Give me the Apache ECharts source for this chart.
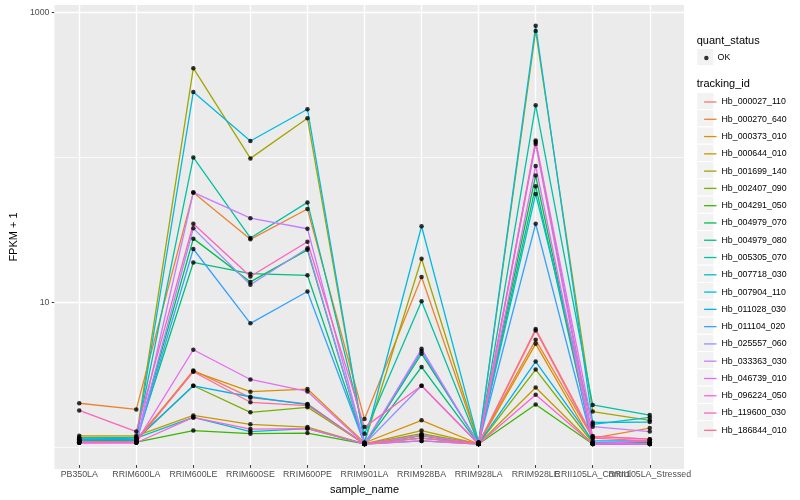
<!DOCTYPE html>
<html>
<head>
<meta charset="utf-8">
<script src="https://cdn.jsdelivr.net/npm/echarts@6/dist/echarts.min.js"></script>
<style>html,body{margin:0;padding:0;background:#fff}#c{width:800px;height:500px}</style>
</head>
<body>
<div id="c"></div>
<script>
// ---------- data ----------
const categories = ['PB350LA','RRIM600LA','RRIM600LE','RRIM600SE','RRIM600PE','RRIM901LA','RRIM928BA','RRIM928LA','RRIM928LE','RRII105LA_Control','RRII105LA_Stressed'];
const trackingIds = ['Hb_000027_110','Hb_000270_640','Hb_000373_010','Hb_000644_010','Hb_001699_140','Hb_002407_090','Hb_004291_050','Hb_004979_070','Hb_004979_080','Hb_005305_070','Hb_007718_030','Hb_007904_110','Hb_011028_030','Hb_011104_020','Hb_025557_060','Hb_033363_030','Hb_046739_010','Hb_096224_050','Hb_119600_030','Hb_186844_010'];
const quantStatus = ['OK'];
// FPKM + 1 per sample, in category order
const hb_000027_110 = [1.03, 1.04, 3.25, 2.10, 1.90, 1.00, 1.15, 1.00, 6.31, 1.13, 1.08];
const hb_000270_640 = [1.92, 1.74, 56.2, 26.5, 43.1, 1.49, 14.5, 1.02, 5.30, 1.10, 1.29];
const hb_000373_010 = [1.05, 1.07, 3.20, 2.31, 2.41, 1.02, 1.46, 1.00, 4.97, 1.02, 1.03];
const hb_000644_010 = [1.14, 1.14, 1.58, 1.37, 1.31, 1.00, 1.24, 1.00, 2.47, 1.00, 1.00];
const hb_001699_140 = [1.11, 1.11, 411, 96.9, 184, 1.02, 19.4, 1.02, 745, 1.68, 1.46];
const hb_002407_090 = [1.05, 1.07, 2.54, 1.66, 1.80, 1.00, 1.18, 1.00, 3.29, 1.02, 1.00];
const hb_004291_050 = [1.03, 1.03, 1.24, 1.18, 1.19, 1.00, 1.14, 1.00, 1.88, 1.00, 1.00];
const hb_004979_070 = [1.06, 1.05, 26.8, 13.4, 22.4, 1.00, 4.24, 1.02, 73.6, 1.00, 1.02];
const hb_004979_080 = [1.07, 1.07, 18.3, 15.3, 14.9, 1.00, 3.43, 1.00, 62.1, 1.02, 1.03];
const hb_005305_070 = [1.10, 1.11, 98.4, 27.1, 47.9, 1.18, 9.84, 1.00, 227, 1.87, 1.59];
const hb_007718_030 = [1.08, 1.10, 1.53, 1.22, 1.28, 1.00, 1.05, 1.00, 54.7, 1.37, 1.53];
const hb_007904_110 = [1.08, 1.07, 281, 128, 213, 1.02, 32.7, 1.03, 809, 1.41, 1.42];
const hb_011028_030 = [1.07, 1.08, 2.54, 2.13, 1.88, 1.00, 1.10, 1.00, 3.74, 1.05, 1.05];
const hb_011104_020 = [1.03, 1.03, 22.7, 6.90, 11.5, 1.00, 4.43, 1.00, 34.0, 1.00, 1.00];
const hb_025557_060 = [1.03, 1.03, 31.6, 12.8, 23.0, 1.00, 2.54, 1.00, 122, 1.02, 1.00];
const hb_033363_030 = [1.02, 1.02, 56.2, 37.2, 31.4, 1.00, 4.59, 1.00, 129, 1.32, 1.22];
const hb_046739_010 = [1.02, 1.03, 4.52, 2.81, 2.32, 1.00, 1.15, 1.00, 85.9, 1.00, 1.05];
const hb_096224_050 = [1.02, 1.02, 1.53, 1.27, 1.28, 1.00, 1.05, 1.00, 2.20, 1.00, 1.00];
const hb_119600_030 = [1.71, 1.22, 34.0, 14.6, 25.5, 1.31, 2.54, 1.00, 126, 1.13, 1.08];
const hb_186844_010 = [1.04, 1.04, 3.18, 1.95, 1.85, 1.00, 1.10, 1.00, 6.15, 1.10, 1.05];
const seriesValues = [hb_000027_110, hb_000270_640, hb_000373_010, hb_000644_010, hb_001699_140, hb_002407_090, hb_004291_050, hb_004979_070, hb_004979_080, hb_005305_070, hb_007718_030, hb_007904_110, hb_011028_030, hb_011104_020, hb_025557_060, hb_033363_030, hb_046739_010, hb_096224_050, hb_119600_030, hb_186844_010];
const yMajorBreaks = [10, 1000];
const yMinorBreaks = [1, 100];

// ---------- style ----------
const palette = ['#F8766D','#EA8331','#D89000','#C09B00','#A3A500','#7CAE00','#39B600','#00BB4E','#00BF7D','#00C1A3','#00BFC4','#00BAE0','#00B0F6','#35A2FF','#9590FF','#C77CFF','#E76BF3','#FA62DB','#FF62BC','#FF6C91'];
const FONT = 'Liberation Sans, Arial, sans-serif';
const panel = {left: 45, right: 684, top: 5, bottom: 469};
const unit = (panel.right - panel.left) / (categories.length - 1 + 1.2);
const firstX = panel.left + 0.6 * unit, lastX = panel.right - 0.6 * unit;
const yMin = 0.713, yMax = 1130;
const keySize = 17.28, keyLeft = 696.7, firstKeyCenter = 101, okCenter = 57;
const legendShift = -4;

const lineSeries = trackingIds.map((id, k) => ({
  name: id, type: 'line', xAxisIndex: 1, yAxisIndex: 1,
  data: seriesValues[k], symbol: 'none', showSymbol: false,
  lineStyle: {color: palette[k], width: 1.3}, itemStyle: {color: palette[k]},
  z: 2, animation: false, silent: true
}));
const pointData = [];
seriesValues.forEach(arr => arr.forEach((v, i) => pointData.push([i, v])));

const keyRect = (cy) => ({type: 'rect', z: -1, shape: {x: keyLeft, y: cy - keySize / 2, width: keySize, height: keySize},
  style: {fill: '#F2F2F2', stroke: '#FFFFFF', lineWidth: 1}});
const graphics = [
  {type: 'text', left: keyLeft, top: 40.7 - 5.5, style: {text: 'quant_status', font: '11px ' + FONT, fill: '#000'}},
  {type: 'text', left: keyLeft, top: 84.3 - 5.5, style: {text: 'tracking_id', font: '11px ' + FONT, fill: '#000'}},
  keyRect(okCenter)
];
trackingIds.forEach((id, i) => graphics.push(keyRect(firstKeyCenter + i * keySize)));

const gridLineSeries = (name, breaks, width) => ({
  name: name, type: 'line', xAxisIndex: 0, yAxisIndex: 0, data: [], z: 1, silent: true,
  markLine: {silent: true, z: 1, symbol: 'none', animation: false, label: {show: false},
    lineStyle: {color: '#FFFFFF', width: width, type: 'solid'},
    data: breaks.map(v => ({yAxis: v}))}
});

const chart = echarts.init(document.getElementById('c'), null, {renderer: 'canvas'});
chart.setOption({
  animation: false,
  backgroundColor: '#fff',
  textStyle: {fontFamily: FONT},
  graphic: {elements: graphics},
  grid: [
    {left: panel.left, width: panel.right - panel.left, top: panel.top, height: panel.bottom - panel.top, show: true, backgroundColor: '#EBEBEB', borderWidth: 0},
    {left: firstX, width: lastX - firstX, top: panel.top, height: panel.bottom - panel.top, show: false}
  ],
  xAxis: [
    {type: 'value', gridIndex: 0, min: 0, max: 1, show: false},
    {type: 'category', gridIndex: 1, data: categories, boundaryGap: false,
     axisLine: {show: false},
     axisTick: {show: true, length: 2.75, lineStyle: {color: '#333333', width: 1}},
     axisLabel: {interval: 0, margin: 5, color: '#4D4D4D', fontSize: 8.8, fontFamily: FONT},
     splitLine: {show: true, lineStyle: {color: '#FFFFFF', width: 1.4}},
     name: 'sample_name', nameLocation: 'middle', nameGap: 14.5,
     nameTextStyle: {fontSize: 11, color: '#000', fontFamily: FONT}}
  ],
  yAxis: [
    {type: 'log', logBase: 10, gridIndex: 0, min: yMin, max: yMax,
     axisLine: {show: false},
     axisTick: {show: true, length: 2.75, customValues: yMajorBreaks, lineStyle: {color: '#333333', width: 1}},
     axisLabel: {margin: 5, color: '#4D4D4D', fontSize: 8.8, fontFamily: FONT, customValues: yMajorBreaks,
       formatter: v => (yMajorBreaks.some(b => Math.abs(b - v) / b < 1e-6) ? String(Math.round(v)) : '')},
     splitLine: {show: false},
     name: 'FPKM + 1', nameLocation: 'middle', nameGap: 29, nameRotate: 90,
     nameTextStyle: {fontSize: 11, color: '#000', fontFamily: FONT}},
    {type: 'log', logBase: 10, gridIndex: 1, min: yMin, max: yMax, show: false, splitLine: {show: false}}
  ],
  legend: [
    {data: quantStatus, orient: 'vertical', left: 699.1, top: okCenter - keySize / 2 + legendShift, icon: 'circle',
     itemWidth: 12.4, itemHeight: 4.5, itemGap: 0, selectedMode: false,
     textStyle: {fontSize: 8.8, color: '#000', lineHeight: keySize, fontFamily: FONT}},
    {data: trackingIds, orient: 'vertical', left: 699.1, top: firstKeyCenter - keySize / 2 + legendShift, icon: 'rect',
     itemWidth: 12.4, itemHeight: 1.3, itemGap: 0, selectedMode: false,
     textStyle: {fontSize: 8.8, color: '#000', lineHeight: keySize, fontFamily: FONT}}
  ],
  series: [
    gridLineSeries('gridMinor', yMinorBreaks, 0.7),
    gridLineSeries('gridMajor', yMajorBreaks, 1.4),
    ...lineSeries,
    {name: 'OK', type: 'scatter', xAxisIndex: 1, yAxisIndex: 1, data: pointData,
     symbol: 'circle', symbolSize: 4.5, itemStyle: {color: '#000'}, z: 3, silent: true}
  ]
});
</script>
</body>
</html>
